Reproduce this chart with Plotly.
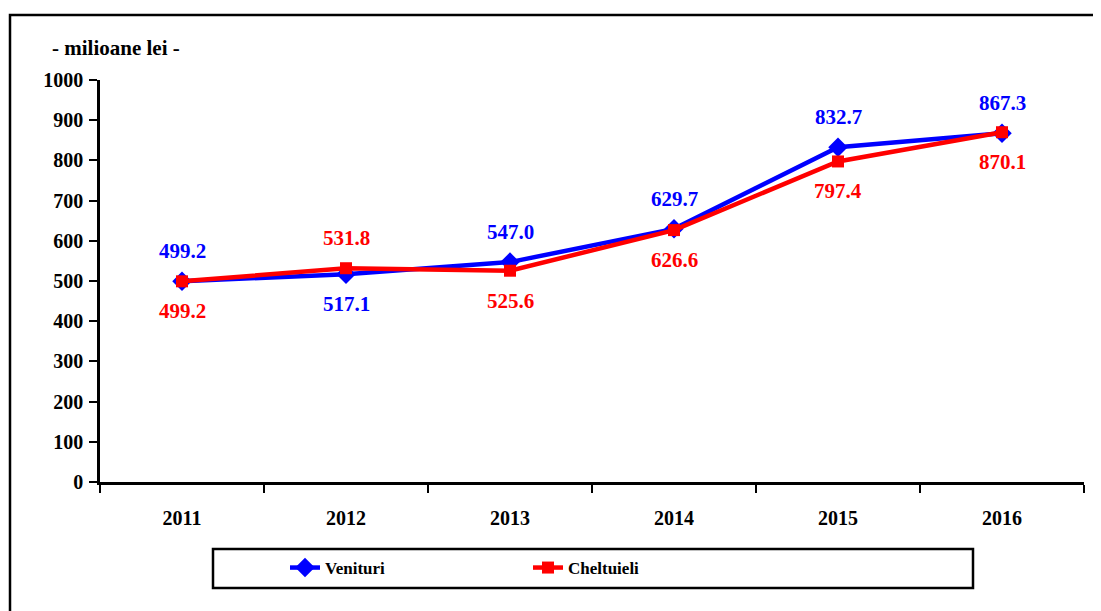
import plotly.graph_objects as go

years = ["2011", "2012", "2013", "2014", "2015", "2016"]
venituri = [499.2, 517.1, 547.0, 629.7, 832.7, 867.3]
cheltuieli = [499.2, 531.8, 525.6, 626.6, 797.4, 870.1]
# label placement: +1 above the point, -1 below
ven_pos = [1, -1, 1, 1, 1, 1]
chel_pos = [-1, 1, -1, -1, -1, -1]

FONT = "Liberation Serif"
OFF = 8  # page body margin
W, H = 1101 - OFF, 611 - OFF
PL, PR, PT, PB = 100, 1084, 80, 482  # plot area in screen coords
L, T = PL - OFF, PT - OFF
R, B = W - (PR - OFF), H - (PB - OFF)


def px(x):
    return (x - PL) / (PR - PL)


def py(y):
    return (PB - y) / (PB - PT)


fig = go.Figure()
fig.add_trace(go.Scatter(
    x=years, y=venituri, name="Venituri", mode="lines+markers",
    line=dict(color="#0000FF", width=4.5),
    marker=dict(symbol="diamond", size=15, color="#0000FF"),
    cliponaxis=False,
))
fig.add_trace(go.Scatter(
    x=years, y=cheltuieli, name="Cheltuieli", mode="lines+markers",
    line=dict(color="#FF0000", width=4.5),
    marker=dict(symbol="square", size=12, color="#FF0000"),
    cliponaxis=False,
))

annotations = []
for i, (v, p) in enumerate(zip(venituri, ven_pos)):
    annotations.append(dict(x=i, y=v, xref="x", yref="y", text=f"<b>{v:.1f}</b>",
                            showarrow=False, yshift=30 * p, bgcolor="white", borderpad=0,
                            font=dict(family=FONT, size=21, color="#0000FF")))
for i, (v, p) in enumerate(zip(cheltuieli, chel_pos)):
    annotations.append(dict(x=i, y=v, xref="x", yref="y", text=f"<b>{v:.1f}</b>",
                            showarrow=False, yshift=30 * p, bgcolor="white", borderpad=0,
                            font=dict(family=FONT, size=21, color="#FF0000")))
annotations.append(dict(x=px(116), y=py(48), xref="paper", yref="paper",
                        text="<b>- milioane lei -</b>", showarrow=False,
                        xanchor="center", yanchor="middle",
                        font=dict(family=FONT, size=21, color="black")))

shapes = [
    dict(type="rect", xref="paper", yref="paper",
         x0=px(10), x1=px(1120), y0=py(630), y1=py(15),
         line=dict(color="black", width=2.5), fillcolor="rgba(0,0,0,0)"),
    dict(type="rect", xref="paper", yref="paper",
         x0=px(213), x1=px(973), y0=py(588), y1=py(549),
         line=dict(color="black", width=2.5), fillcolor="rgba(0,0,0,0)"),
]

fig.update_layout(
    width=W, height=H,
    margin=dict(l=L, r=R, t=T, b=B, autoexpand=False),
    plot_bgcolor="white", paper_bgcolor="white",
    font=dict(family=FONT, size=20, color="black", weight="bold"),
    xaxis=dict(type="category", range=[-0.5, 5.5], tickson="boundaries",
               ticks="outside", ticklen=8, tickwidth=2, tickcolor="black",
               showline=True, linecolor="black", linewidth=2.5,
               showgrid=False, zeroline=False, ticklabelstandoff=16,
               tickfont=dict(family=FONT, size=20, color="black", weight="bold")),
    yaxis=dict(range=[0, 1000], dtick=100, ticks="outside", ticklen=8,
               tickwidth=2, tickcolor="black",
               showline=True, linecolor="black", linewidth=2.5,
               showgrid=False, zeroline=False, ticklabelstandoff=2,
               tickfont=dict(family=FONT, size=20, color="black", weight="bold")),
    showlegend=True,
    legend=dict(orientation="h", x=px(285), xanchor="left", y=py(568), yanchor="middle",
                entrywidth=198, entrywidthmode="pixels",
                bgcolor="rgba(0,0,0,0)", borderwidth=0,
                font=dict(family=FONT, size=17, color="black", weight="bold")),
    annotations=annotations,
    shapes=shapes,
)

fig.write_html("out.html")
